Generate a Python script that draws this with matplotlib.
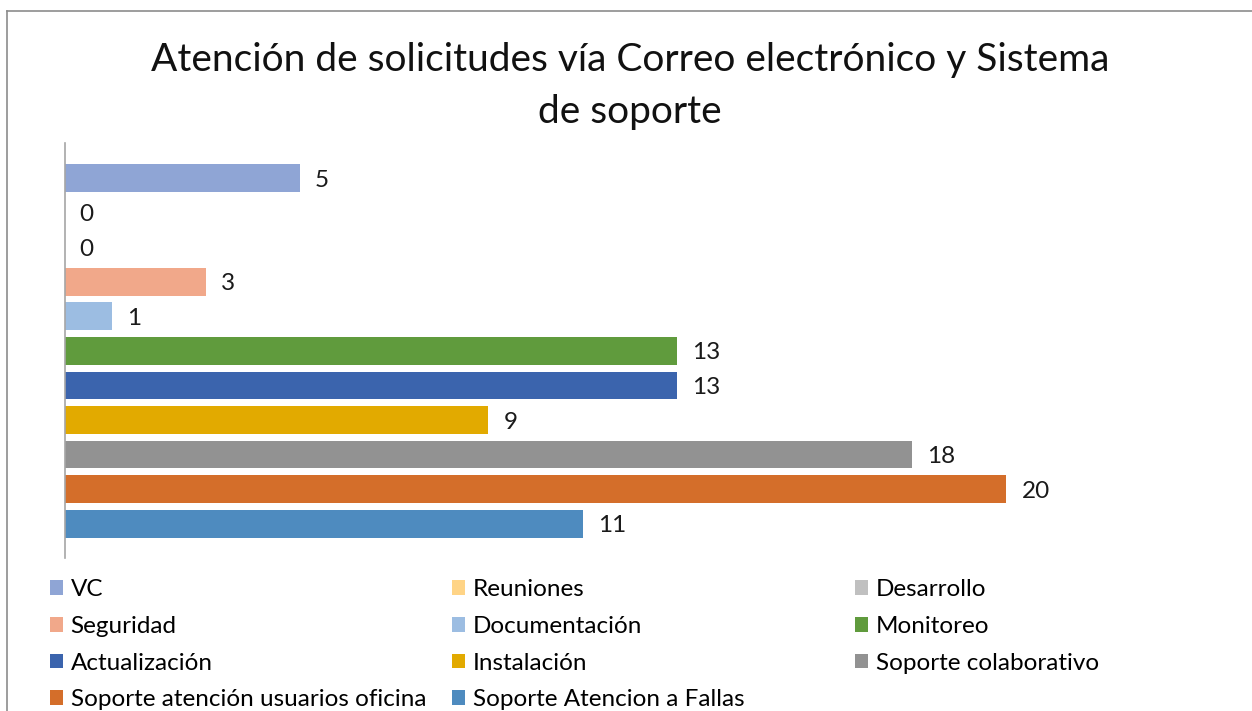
import matplotlib.pyplot as plt
from matplotlib.lines import Line2D

plt.rcParams['font.family'] = ['Lato', 'DejaVu Sans']

categories = ["VC", "Reuniones", "Desarrollo", "Seguridad", "Documentación", "Monitoreo",
              "Actualización", "Instalación", "Soporte colaborativo",
              "Soporte atención usuarios oficina", "Soporte Atencion a Fallas"]
values = [5, 0, 0, 3, 1, 13, 13, 9, 18, 20, 11]
colors = ["#8FA5D5", "#FFD486", "#C0C0C0", "#F1A88A", "#9CBDE2", "#609B3D",
          "#3B64AD", "#E2AA00", "#929292", "#D46E2A", "#4E8BBF"]
title = "Atención de solicitudes vía Correo electrónico y Sistema\nde soporte"

W, H = 1252, 711
fig = plt.figure(figsize=(W / 100, H / 100), dpi=100)

# chart border (top and left visible in the reference)
fig.add_artist(Line2D([6.5 / W, 1], [1 - 11 / H, 1 - 11 / H], color="#8C8C8C", lw=1.2))
fig.add_artist(Line2D([6.5 / W, 6.5 / W], [0, 1 - 11 / H], color="#8C8C8C", lw=1.2))

ax = fig.add_axes([64.5 / W, (H - 558) / H, 1036 / W, 415 / H])
pos = list(range(len(values)))
bars = []
for p, v, c, lab in zip(pos, values, colors, categories):
    b = ax.barh(p, v, height=0.8, color=c, label=lab)
    bars.append(b)
    ax.text(v + 0.32, p + 0.06, str(v), va="center", ha="left", fontsize=17.5, color="#1a1a1a")

ax.set_xlim(0, 22)
ax.set_ylim(10.99, -1.01)
for s in ["top", "right", "bottom"]:
    ax.spines[s].set_visible(False)
ax.spines["left"].set_color("#A6A6A6")
ax.spines["left"].set_linewidth(1.2)
ax.set_xticks([])
ax.set_yticks([])

fig.text(630 / W, 1 - 86 / H, title, ha="center", va="center", fontsize=28,
         linespacing=1.53, color="#111111")

# legend: three columns, row-major order as in the reference
col_x = [50, 452, 855]
for k in range(3):
    hs = bars[k::3]
    labs = categories[k::3]
    fig.legend(hs, labs, loc="upper left", bbox_to_anchor=(col_x[k] / W, 1 - 579 / H),
               frameon=False, fontsize=17.5, handlelength=0.55, handleheight=0.55,
               handletextpad=0.3, labelspacing=0.65, borderpad=0, borderaxespad=0)

fig.savefig("out.png", dpi=100)
